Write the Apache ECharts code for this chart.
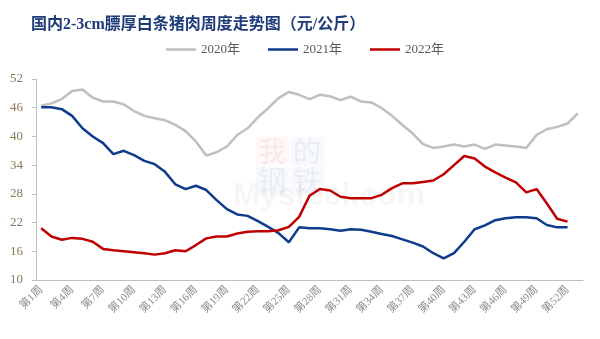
<!DOCTYPE html>
<html>
<head>
<meta charset="utf-8">
<script src="https://cdn.jsdelivr.net/npm/echarts@6/dist/echarts.min.js"></script>
<style>html,body{margin:0;padding:0;background:#fff;}#c{width:600px;height:339px;}</style>
</head>
<body>
<div id="c"></div>
<script>
var titleText = '国内2-3cm膘厚白条猪肉周度走势图（元/公斤）';
var seriesNames = ['2020年', '2021年', '2022年'];
var weeks = [];
for (var i = 1; i <= 53; i++) weeks.push('第' + i + '周');

var y2020 = [46.4, 46.9, 47.8, 49.5, 49.8, 48.1, 47.3, 47.3, 46.7, 45.3,
  44.3, 43.8, 43.4, 42.4, 41.1, 38.9, 36.0, 36.7, 37.9, 40.3,
  41.7, 44.0, 45.9, 48.0, 49.3, 48.7, 47.8, 48.7, 48.4, 47.6,
  48.3, 47.3, 47.1, 45.9, 44.3, 42.4, 40.6, 38.4, 37.6, 37.9,
  38.3, 37.9, 38.3, 37.4, 38.3, 38.1, 37.9, 37.6, 40.3, 41.5,
  42.0, 42.7, 44.8];
var y2021 = [46.1, 46.1, 45.7, 44.3, 41.7, 40.0, 38.6, 36.3, 37.0, 36.1,
  34.9, 34.2, 32.6, 30.0, 29.0, 29.7, 28.8, 26.7, 24.8, 23.7,
  23.4, 22.3, 21.1, 19.8, 17.9, 21.0, 20.8, 20.8, 20.6, 20.3,
  20.6, 20.5, 20.1, 19.6, 19.2, 18.5, 17.8, 17.0, 15.6, 14.5,
  15.6, 18.0, 20.6, 21.4, 22.5, 22.9, 23.1, 23.1, 22.9, 21.5,
  21.0, 21.0];
var y2022 = [20.8, 19.1, 18.4, 18.8, 18.6, 18.0, 16.5, 16.2, 16.0, 15.8,
  15.6, 15.3, 15.6, 16.2, 16.0, 17.3, 18.7, 19.1, 19.1, 19.7,
  20.1, 20.2, 20.2, 20.4, 21.1, 23.2, 27.6, 29.0, 28.7, 27.4,
  27.1, 27.1, 27.1, 27.8, 29.2, 30.2, 30.2, 30.5, 30.8, 32.1,
  34.0, 35.9, 35.4, 33.7, 32.5, 31.4, 30.4, 28.3, 29.0, 26.0,
  22.8, 22.2];
var yTicks = {min: 10, max: 52, interval: 6};

var serif = "'Liberation Serif','Noto Sans CJK SC',serif";
var chart = echarts.init(document.getElementById('c'));
function mk(name, data, color) {
  return {name: name, type: 'line', data: data, symbol: 'none', smooth: false,
    lineStyle: {color: color, width: 2.5}, itemStyle: {color: color}, z: 3};
}
chart.setOption({
  animation: false,
  title: {text: titleText, left: 26, top: 12,
    textStyle: {fontSize: 16, fontWeight: 'bold', color: '#1f3b7a', fontFamily: serif}},
  legend: {data: seriesNames.map(function (n) { return {name: n, icon: 'rect'}; }),
    left: 166, top: 43, itemWidth: 30, itemHeight: 2.5, itemGap: 28, padding: 0,
    textStyle: {fontSize: 13, color: '#595959', fontFamily: serif}},
  graphic: [
    {type: 'rect', left: 256, top: 137, shape: {width: 33, height: 29}, style: {fill: 'rgba(230,120,120,0.05)'}, z: 0},
    {type: 'rect', left: 291, top: 137, shape: {width: 33, height: 29}, style: {fill: 'rgba(120,140,200,0.05)'}, z: 0},
    {type: 'rect', left: 256, top: 167, shape: {width: 33, height: 29}, style: {fill: 'rgba(120,140,200,0.05)'}, z: 0},
    {type: 'rect', left: 291, top: 167, shape: {width: 33, height: 29}, style: {fill: 'rgba(120,140,200,0.05)'}, z: 0},
    {type: 'text', left: 258, top: 137, style: {text: '我', font: '28px "Noto Sans CJK SC"', fill: 'rgba(220,60,60,0.09)'}, z: 0},
    {type: 'text', left: 293, top: 137, style: {text: '的', font: '28px "Noto Sans CJK SC"', fill: 'rgba(70,90,170,0.08)'}, z: 0},
    {type: 'text', left: 258, top: 166, style: {text: '钢', font: '28px "Noto Sans CJK SC"', fill: 'rgba(70,90,170,0.08)'}, z: 0},
    {type: 'text', left: 293, top: 166, style: {text: '铁', font: '28px "Noto Sans CJK SC"', fill: 'rgba(70,90,170,0.08)'}, z: 0},
    {type: 'text', left: 233, top: 180, style: {text: 'Mysteel.com', font: 'bold 32px Arial', fill: 'rgba(0,0,0,0.035)'}, z: 0}
  ],
  grid: {left: 36, right: 17, top: 79, bottom: 59, containLabel: false},
  xAxis: {type: 'category', data: weeks, boundaryGap: true,
    axisLine: {lineStyle: {color: '#bfbfbf', width: 1}},
    axisTick: {interval: 2, length: 4, lineStyle: {color: '#bfbfbf'}},
    axisLabel: {interval: 2, rotate: 45, fontSize: 11, color: '#8c8c8c', fontFamily: serif, margin: 8},
    splitLine: {show: false}},
  yAxis: {type: 'value', min: yTicks.min, max: yTicks.max, interval: yTicks.interval,
    axisLine: {show: true, lineStyle: {color: '#bfbfbf', width: 1}},
    axisTick: {show: true, length: 4, lineStyle: {color: '#bfbfbf'}},
    axisLabel: {fontSize: 13, color: '#8c7a5b', fontFamily: serif, margin: 13},
    splitLine: {show: false}},
  series: [
    mk(seriesNames[0], y2020, '#bfbfbf'),
    mk(seriesNames[1], y2021, '#0e3b8c'),
    mk(seriesNames[2], y2022, '#c00000')
  ]
});
</script>
</body>
</html>
